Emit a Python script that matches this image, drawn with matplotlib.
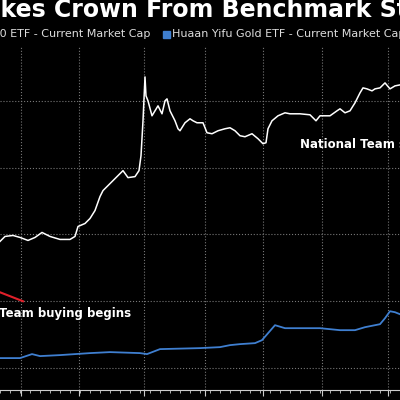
import matplotlib
matplotlib.use("Agg")
import matplotlib.pyplot as plt
import numpy as np

white_x = [0,5,13,20,28,35,42,50,60,70,75,78,85,90,95,100,103,110,118,123,128,135,139,141,143,145,146,148,152,155,158,162,165,167,170,175,178,180,185,190,193,197,203,207,212,218,225,230,235,240,245,252,258,263,266,268,272,278,285,290,300,310,316,320,330,337,340,345,350,355,360,363,367,372,375,380,385,390,395,400]
white_py = [241,236,235,237,240,237,232,236,239,239,236,226,223,218,210,196,190,183,175,170,177,176,170,155,120,76,95,100,115,110,105,113,100,98,110,120,128,130,122,118,120,122,122,132,133,130,128,127,130,135,136,133,138,143,142,128,120,115,112,113,113,114,120,115,115,110,108,112,110,102,92,87,88,90,88,87,82,88,85,84]
blue_x = [0,20,32,40,60,90,110,140,147,160,200,220,230,240,255,262,275,285,300,320,340,355,365,380,385,390,395,400]
blue_py = [358,358,354,356,355,353,352,353,354,349,348,347,345,344,343,340,325,328,328,328,330,330,327,324,318,311,312,314]

def val(py):
    return (368 - np.array(py)) / 67.0 + 1

white_y = val(white_py)
blue_y = val(blue_py)
grid_x = [21,79,144,205,263,322,388]
grid_y = [1,2,3,4,5]

fig = plt.figure(figsize=(4,4), dpi=100, facecolor='black')
ax = fig.add_axes([0, 0.025, 1, 0.86])
ax.set_facecolor('black')
ax.set_xlim(0, 400)
ax.set_ylim(val(390), val(45))
ax.plot(white_x, white_y, color='white', lw=1.1)
ax.plot(blue_x, blue_y, color='#3f7fd0', lw=1.3)
ax.plot([0,23],[val(292),val(301)], color='#e0202a', lw=1.5)
for s in ['top','right','left']:
    ax.spines[s].set_visible(False)
ax.spines['bottom'].set_color('#cccccc')
ax.set_xticks(grid_x)
ax.set_xticks(np.arange(0,400,10), minor=True)
ax.set_yticks(grid_y)
ax.tick_params(axis='x', colors='#cccccc', length=4, labelbottom=False)
ax.tick_params(axis='x', which='minor', colors='#cccccc', length=2)
ax.tick_params(axis='y', left=False, labelleft=False)
ax.grid(True, color='#777777', ls=':', lw=0.8)
ax.text(-1, val(313), "Team buying begins", color='white', fontsize=8.5, fontweight='bold', va='center', ha='left')
ax.text(300, val(144), "National Team steps in", color='white', fontsize=8.5, fontweight='bold', va='center', ha='left')

r = fig.canvas.get_renderer()
def prefix_w(s, **kw):
    t = fig.text(0, 0, s, **kw)
    w = t.get_window_extent(r).width
    t.remove()
    return w / 400.0

tkw = dict(fontsize=17, fontweight='bold')
fig.text(-prefix_w("Gold ETF Ta", **tkw), 0.975, "Gold ETF Takes Crown From Benchmark Stock ETF", color='white', va='center', ha='left', **tkw)
lkw = dict(fontsize=8)
fig.text(-prefix_w("CSI 30", **lkw), 0.914, "CSI 300 ETF - Current Market Cap", color='#dddddd', va='center', ha='left', **lkw)
fig.patches.append(plt.Rectangle((0.408, 0.905), 0.018, 0.018, transform=fig.transFigure, color='#3f7fd0'))
fig.text(0.43, 0.914, "Huaan Yifu Gold ETF - Current Market Cap", color='#dddddd', va='center', ha='left', **lkw)
fig.savefig("out.png", facecolor='black')
